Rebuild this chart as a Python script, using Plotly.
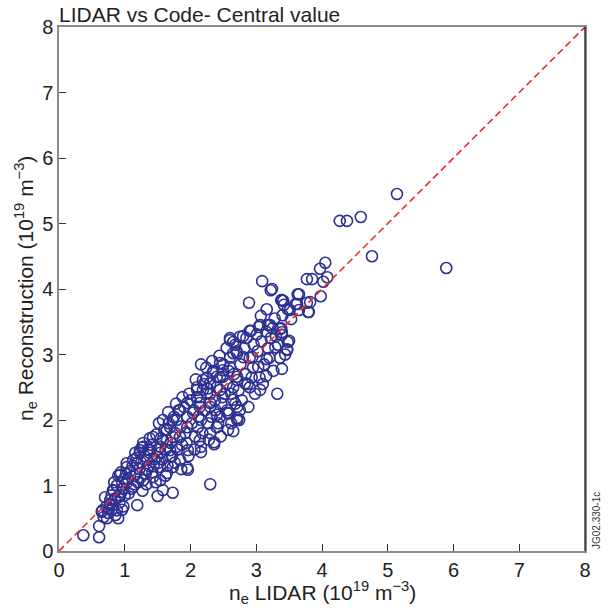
import plotly.graph_objects as go

# (units of 10^19 m^-3)
lidar = [
    0.37, 0.61, 0.61, 0.65, 0.73, 0.80, 0.90, 0.88, 0.72, 0.78, 0.85, 0.92, 0.95, 0.83, 0.98, 0.96, 0.90, 1.00, 0.75, 0.68,
    0.70, 0.76, 0.82, 0.86, 0.88, 0.93, 0.97, 0.99, 0.80, 0.66, 0.94, 0.84,
    0.78, 0.90, 0.82, 0.93, 1.03, 1.13, 1.28, 1.03, 1.19, 1.34, 1.43, 1.54, 1.64, 1.73, 1.54, 1.38, 1.23, 1.54, 1.69, 1.43,
    1.28, 1.58, 1.73, 1.69, 1.79, 0.96, 1.19, 1.50, 1.73, 1.58, 1.96, 2.16, 2.36, 2.57, 2.30,
    2.60, 2.65, 2.45, 2.60, 2.71, 2.65, 2.49, 2.34, 2.19, 2.10, 2.25, 2.45, 2.71, 2.56, 2.45, 2.30, 2.14, 1.95, 1.84, 2.04,
    2.71, 2.65, 2.40, 2.30, 2.11, 1.95, 1.73, 1.64, 1.84, 2.14, 2.36, 2.16, 1.96, 1.79, 1.64, 1.54, 1.38, 1.23, 1.28, 1.13,
    1.34, 1.49, 1.69, 1.84, 1.95, 1.03,
    2.65, 2.71, 2.80, 2.94, 3.03, 2.49, 2.40, 2.30, 2.71, 2.83, 2.90, 2.19, 2.10, 2.49, 2.65, 2.75, 2.56, 2.30, 2.14, 2.40, 2.71,
    3.22, 2.89, 3.16, 3.39, 3.63, 3.62, 3.48, 3.77, 3.79, 3.07, 3.21, 3.06, 2.92, 2.60, 2.75, 3.01, 3.39, 3.50, 3.29, 3.47,
    3.16, 2.16, 3.39, 3.15, 3.32, 3.06,
    3.09, 3.24, 3.38, 3.42, 3.53, 3.18, 3.04, 3.25, 3.36, 2.90, 2.80, 3.65, 3.80,
    5.14, 4.27, 4.38, 4.59, 4.76, 5.89, 4.05, 3.97, 4.08, 4.02, 3.77, 3.85, 3.98, 3.65, 3.82, 3.60, 3.41, 3.51, 3.38, 3.39, 3.48, 3.47,
    1.05, 1.08, 1.10, 1.12, 1.15, 1.18, 1.20, 1.22, 1.25, 1.27, 1.30, 1.32, 1.35, 1.37, 1.40, 1.42, 1.45, 1.47, 1.50, 1.52,
    1.06, 1.14, 1.24, 1.33, 1.44, 1.02, 1.16, 1.26, 1.38, 1.48,
    1.55, 1.57, 1.60, 1.62, 1.65, 1.67, 1.70, 1.72, 1.75, 1.77, 1.80, 1.82, 1.85, 1.87, 1.90, 1.92, 1.95, 1.97, 2.00, 2.02,
    1.58, 1.66, 1.78, 1.88, 1.98, 1.62, 1.76, 1.86, 1.94, 1.52,
    2.05, 2.07, 2.10, 2.12, 2.15, 2.18, 2.20, 2.22, 2.25, 2.27, 2.30, 2.32, 2.35, 2.37, 2.40, 2.42, 2.45, 2.47, 2.50, 2.52,
    2.08, 2.24, 2.33, 2.44, 2.06, 2.28, 2.46, 2.38, 2.16, 2.26,
    2.55, 2.58, 2.60, 2.62, 2.66, 2.68, 2.70, 2.73, 2.76, 2.78, 2.82, 2.84, 2.87, 2.90, 2.93, 2.96, 2.98,
    2.55, 2.68, 2.85, 2.62, 2.74, 2.88, 2.95, 2.58,
    3.02, 3.05, 3.08, 3.12, 3.15, 3.20, 3.22, 3.26, 3.28, 3.33, 3.36, 3.40, 3.44, 3.10, 3.18, 3.30,
]
reconstruction = [
    0.24, 0.38, 0.21, 0.60, 0.50, 0.63, 0.50, 0.62, 0.68, 0.72, 0.80, 0.74, 0.90, 0.92, 0.68, 1.05, 1.15, 0.85, 0.58, 0.52,
    0.82, 0.64, 0.70, 0.55, 1.00, 0.85, 0.95, 1.10, 0.85, 0.62, 1.20, 1.05,
    0.78, 0.82, 0.93, 1.16, 1.04, 0.98, 1.08, 1.34, 1.34, 1.24, 1.13, 1.08, 1.19, 1.28, 1.28, 1.50, 1.54, 1.50, 1.54, 1.74,
    1.65, 1.69, 1.74, 1.89, 2.00, 0.63, 0.70, 0.84, 0.89, 0.93, 1.24, 1.51, 1.66, 1.85, 1.02,
    3.22, 3.02, 2.87, 2.81, 2.66, 2.50, 2.66, 2.72, 2.61, 2.46, 2.41, 2.46, 2.20, 2.11, 2.05, 2.20, 2.26, 2.26, 2.15, 2.11,
    2.00, 1.83, 1.89, 1.80, 1.89, 1.89, 2.00, 1.85, 1.74, 1.69, 1.63, 1.59, 1.54, 1.59, 1.69, 1.59, 1.54, 1.50, 1.59, 1.39,
    1.39, 1.44, 1.44, 1.39, 1.27, 1.28,
    3.19, 3.02, 2.96, 2.96, 2.81, 2.76, 2.66, 2.56, 2.61, 2.56, 2.50, 2.46, 2.35, 2.35, 2.31, 2.15, 2.15, 2.26, 2.20, 2.08, 2.03,
    3.98, 3.79, 3.69, 3.83, 3.92, 3.77, 3.69, 3.79, 3.65, 3.59, 3.45, 3.45, 3.36, 3.25, 3.27, 3.31, 3.34, 3.21, 3.11, 3.07,
    2.93, 2.85, 2.78, 2.67, 2.40, 2.46,
    4.12, 4.00, 3.83, 3.76, 3.54, 3.45, 3.42, 3.40, 3.39, 3.36, 3.28, 3.68, 3.65,
    5.45, 5.04, 5.04, 5.10, 4.50, 4.32, 4.40, 4.31, 4.18, 4.11, 4.15, 4.15, 3.89, 3.92, 3.80, 3.77, 3.82, 3.68, 3.40, 3.30, 3.19, 3.08,
    1.10, 1.22, 0.95, 1.30, 1.15, 1.42, 1.05, 1.25, 1.35, 0.92, 1.45, 1.18, 1.55, 1.30, 1.62, 1.20, 1.40, 1.05, 1.55, 1.35,
    0.88, 1.02, 1.12, 1.02, 1.30, 1.18, 1.50, 1.58, 1.72, 1.78,
    1.72, 1.40, 1.85, 1.55, 1.30, 1.95, 1.65, 1.45, 2.05, 1.80, 1.55, 2.15, 1.90, 1.62, 2.20, 1.80, 2.05, 1.45, 2.30, 1.95,
    2.00, 2.12, 2.25, 2.35, 2.40, 1.15, 1.35, 1.25, 1.65, 1.95,
    2.15, 1.75, 2.50, 2.05, 2.35, 1.80, 2.55, 2.15, 2.65, 1.95, 2.40, 2.05, 2.75, 2.30, 2.50, 1.95, 2.65, 2.25, 2.85, 2.40,
    2.62, 2.80, 2.90, 2.98, 1.55, 1.70, 1.75, 2.15, 2.00, 2.48,
    2.55, 2.10, 2.95, 2.40, 2.70, 2.25, 3.05, 2.45, 2.85, 2.30, 3.10, 2.70, 2.55, 2.95, 2.65, 3.15, 2.40,
    3.10, 3.15, 3.25, 1.95, 2.00, 2.20, 2.80, 2.75,
    3.05, 2.65, 3.20, 2.85, 3.35, 2.95, 3.25, 2.75, 3.55, 3.15, 2.95, 3.60, 3.00, 2.55, 3.10, 3.28,
]
diag = [0, 8]
tick_vals = [0, 1, 2, 3, 4, 5, 6, 7, 8]

FONT = "Liberation Sans, Arial, Helvetica, sans-serif"
BLUE = "#2e3192"
RED = "#ee2a2a"
TXT = "#222222"

fig = go.Figure()
fig.add_trace(go.Scatter(
    x=lidar, y=reconstruction, mode="markers",
    marker=dict(symbol="circle-open", size=11, color=BLUE, line=dict(width=1.6, color=BLUE)),
    showlegend=False, hoverinfo="skip",
))
fig.add_trace(go.Scatter(
    x=diag, y=diag, mode="lines",
    line=dict(color=RED, width=1.6, dash="7px,4px"),
    showlegend=False, hoverinfo="skip",
))

axis_common = dict(
    range=[0, 8], tickvals=tick_vals, ticks="inside", ticklen=7, tickwidth=1,
    tickcolor="#333333", showgrid=False, zeroline=False,
    showline=True, linecolor="#8c8c8c", linewidth=1.5, mirror=True,
    tickfont=dict(family=FONT, size=20, color=TXT),
)
fig.update_xaxes(**axis_common)
fig.update_yaxes(**axis_common)

# black right spine
fig.add_shape(type="line", xref="paper", yref="paper", x0=1, x1=1, y0=0, y1=1,
              line=dict(color="#111111", width=1.2))

fig.add_annotation(text="n<sub>e</sub> LIDAR (10<sup>19</sup> m<sup>−3</sup>)", xref="paper", yref="paper",
                   x=0.5, y=0.0, xanchor="center", yanchor="middle", yshift=-41, showarrow=False,
                   font=dict(family=FONT, size=21, color=TXT))
fig.add_annotation(text="n<sub>e</sub> Reconstruction (10<sup>19</sup> m<sup>−3</sup>)", xref="paper", yref="paper",
                   x=0.0, y=0.5, xanchor="center", yanchor="middle", xshift=-34, textangle=-90, showarrow=False,
                   font=dict(family=FONT, size=21, color=TXT))
fig.add_annotation(text="LIDAR vs Code- Central value", xref="paper", yref="paper",
                   x=0.0, y=1.0, xanchor="left", yanchor="bottom", xshift=-2, yshift=-1, showarrow=False,
                   font=dict(family=FONT, size=21, color=TXT))
fig.add_annotation(text="JG02.330-1c", xref="paper", yref="paper",
                   x=1.0, y=0.0, xanchor="left", yanchor="bottom", xshift=4, showarrow=False,
                   textangle=-90, font=dict(family=FONT, size=10, color="#333333"))

fig.update_layout(
    width=608, height=610,
    margin=dict(l=59, r=23, t=27, b=59, autoexpand=False),
    paper_bgcolor="white", plot_bgcolor="white",
)
fig.write_html("out.html", config={"displayModeBar": False},
               post_script="document.body.style.margin='0';")
